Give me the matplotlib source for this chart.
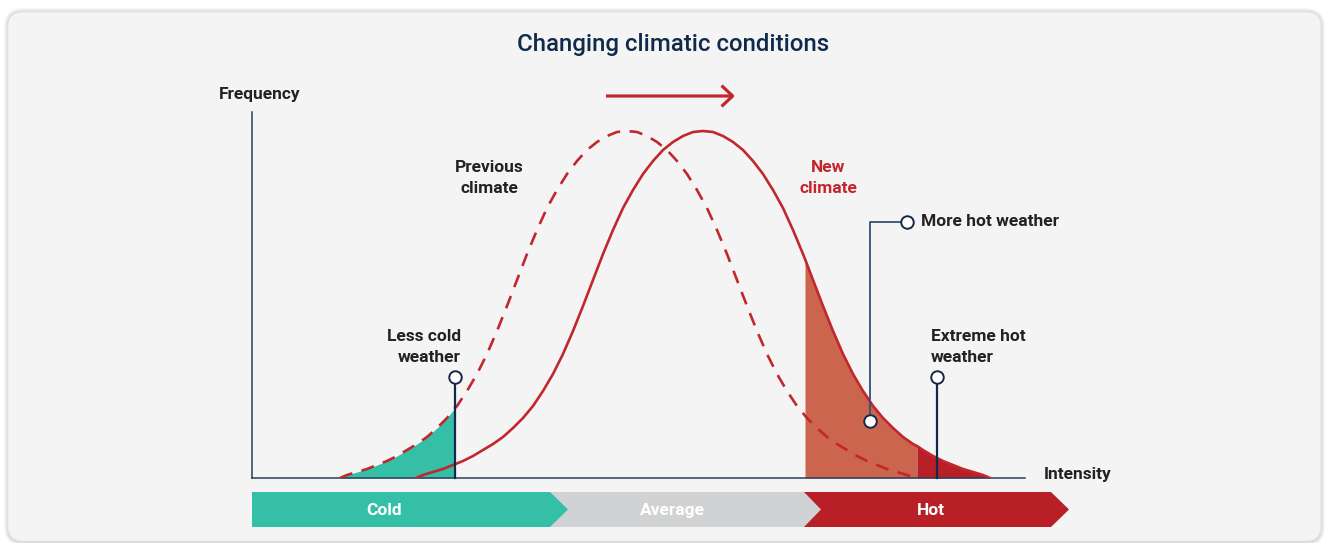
import matplotlib
matplotlib.use("Agg")
import matplotlib.pyplot as plt
from matplotlib.patches import FancyBboxPatch, Polygon, FancyArrowPatch
import numpy as np

plt.rcParams['font.family'] = ['Roboto', 'DejaVu Sans']

# ---------------- data (intensity / frequency, arbitrary units) ----------------
previous_x = [88, 95, 105, 115, 125, 135, 145, 155, 165, 175, 185, 195, 203, 205, 215, 225, 235,
              245, 255, 265, 275, 285, 295, 305, 315, 325, 335, 345, 355, 365, 375,
              385, 395, 405, 415, 425, 435, 445, 455, 465, 475, 485, 495, 505, 515,
              525, 535, 545, 555, 565, 575, 585, 595, 605, 615, 625, 635, 645, 655, 662]
previous_y = [0, 3, 6, 9, 13, 17, 22, 28, 34, 41, 50, 60, 70, 72, 87, 104, 124,
              147, 172, 198, 224, 248, 270, 288, 304, 317, 328, 336, 342, 346, 347,
              346, 342, 336, 328, 317, 304, 288, 270, 248, 224, 198, 172, 147, 124,
              104, 87, 72, 60, 50, 41, 34, 28, 22, 17, 13, 9, 6, 3, 0]

new_x = [164, 171, 181, 191, 201, 211, 221, 231, 241, 251, 261, 271, 281, 291, 301, 311,
         321, 331, 341, 351, 361, 371, 381, 391, 401, 411, 421, 431, 441, 451,
         461, 471, 481, 491, 501, 511, 521, 531, 541, 551, 553, 561, 571, 581, 591,
         601, 611, 621, 631, 641, 651, 661, 665, 671, 681, 691, 701, 711, 721, 731, 738]
new_y = [0, 3, 6, 9, 13, 17, 22, 28, 34, 41, 50, 60, 72, 87, 104, 124,
         147, 172, 198, 224, 248, 270, 288, 304, 317, 328, 336, 342, 346, 347,
         346, 342, 336, 328, 317, 304, 288, 270, 248, 224, 219, 198, 172, 147, 124,
         104, 87, 72, 60, 50, 41, 34, 32, 28, 22, 17, 13, 9, 6, 3, 0]

cold_threshold = 203
hot_threshold = 553
extreme_threshold = 665
extreme_marker = 685
more_hot_marker = (618, 57)

band_labels = ["Cold", "Average", "Hot"]

# ---------------- colours ----------------
RED = "#c1272d"
HOT_FILL = "#cb654e"
DARK_RED = "#b81f27"
TEAL = "#35bfa6"
GREY = "#d1d2d4"
NAVY = "#13294b"
SLATE = "#34506f"
TXT = "#222222"

W, H = 1329, 543
fig = plt.figure(figsize=(W / 100, H / 100), dpi=100)
fig.patch.set_facecolor("white")

# background axes in pixel coordinates
bg = fig.add_axes([0, 0, 1, 1])
bg.set_xlim(0, W)
bg.set_ylim(H, 0)
bg.axis("off")

# shadow + panel
for i, a in enumerate([0.03, 0.03, 0.04, 0.05]):
    g = 4 - i
    bg.add_patch(FancyBboxPatch((8 - g, 12 - g), 1313 + 2 * g, 530 + 2 * g,
                                boxstyle="round,pad=0,rounding_size=%d" % (15 + g),
                                fc="black", ec="none", alpha=a, zorder=0))
bg.add_patch(FancyBboxPatch((8, 12), 1313, 529, boxstyle="round,pad=0,rounding_size=15",
                            fc="#f4f4f4", ec="#e6e6e6", lw=0.8, zorder=1))

# title
bg.text(673, 45, "Changing climatic conditions", ha="center", va="center",
        fontsize=17.3, color="#0f2a4a", fontweight="medium", zorder=5)

# top arrow
bg.add_patch(FancyArrowPatch((606, 96), (735, 96), arrowstyle="->,head_length=8,head_width=7.5",
                             mutation_scale=1, color=RED, lw=2.3, zorder=5,
                             shrinkA=0, shrinkB=0, capstyle="butt"))

# bottom band
yt, yb, ym = 492, 527, 509.5
hot = Polygon([(804, yt), (1051, yt), (1069, ym), (1051, yb), (804, yb)], closed=True,
              fc=DARK_RED, ec="none", zorder=2)
avg = Polygon([(550, yt), (804, yt), (821, ym), (804, yb), (550, yb)], closed=True,
              fc=GREY, ec="none", zorder=3)
cold = Polygon([(252, yt), (550, yt), (568, ym), (550, yb), (252, yb)], closed=True,
               fc=TEAL, ec="none", zorder=4)
for p in (hot, avg, cold):
    bg.add_patch(p)
for lab, xc in zip(band_labels, [384, 672, 931]):
    bg.text(xc, ym + 1, lab, ha="center", va="center", color="white",
            fontsize=12.5, fontweight="bold", zorder=6)

# axis titles and annotations (pixel placement)
FS = 12.5
LS = 1.47
bg.text(260, 94, "Frequency", ha="center", va="center", fontsize=FS, fontweight="bold", color=TXT, zorder=6)
bg.text(1078, 474, "Intensity", ha="center", va="center", fontsize=FS, fontweight="bold", color=TXT, zorder=6)
bg.text(489, 178, "Previous\nclimate", ha="center", va="center", fontsize=FS, fontweight="bold",
        color=TXT, linespacing=LS, zorder=6)
bg.text(828, 178, "New\nclimate", ha="center", va="center", fontsize=FS, fontweight="bold",
        color=RED, linespacing=LS, zorder=6)
bg.text(461, 347, "Less cold\nweather", ha="right", va="center", fontsize=FS, fontweight="bold",
        color=TXT, linespacing=LS, zorder=6)
bg.text(931, 347, "Extreme hot\nweather", ha="left", va="center", fontsize=FS, fontweight="bold",
        color=TXT, linespacing=LS, zorder=6)
bg.text(921, 221, "More hot weather", ha="left", va="center", fontsize=FS, fontweight="bold",
        color=TXT, zorder=6)

# ---------------- main axes ----------------
ax = fig.add_axes([252 / W, (H - 478) / H, 773 / W, 366 / H])
ax.set_xlim(0, 773)
ax.set_ylim(0, 366)
ax.patch.set_alpha(0)
for s in ("top", "right"):
    ax.spines[s].set_visible(False)
for s in ("left", "bottom"):
    ax.spines[s].set_color("#2b3f5c")
    ax.spines[s].set_linewidth(1.1)
ax.set_xticks([])
ax.set_yticks([])

px = np.array(previous_x)
py = np.array(previous_y)
nx = np.array(new_x)
ny = np.array(new_y)

m = px <= cold_threshold
ax.fill_between(px[m], 0, py[m], color=TEAL, lw=0, zorder=2)
m = (nx >= hot_threshold) & (nx <= extreme_threshold)
ax.fill_between(nx[m], 0, ny[m], color=HOT_FILL, lw=0, zorder=2)
m = nx >= extreme_threshold
ax.fill_between(nx[m], 0, ny[m], color=DARK_RED, lw=0, zorder=2)

ax.plot(px, py, color=RED, lw=1.9, dashes=(5, 3.6), zorder=3, solid_capstyle="butt")
ax.plot(nx, ny, color=RED, lw=1.9, zorder=4, solid_joinstyle="round")

# markers
mk = dict(marker="o", ms=9, mfc="white", mew=1.4, clip_on=False, zorder=6)
ax.plot([cold_threshold, cold_threshold], [0, 101], color=NAVY, lw=1.6, zorder=5, clip_on=False)
ax.plot([cold_threshold], [101], mec=NAVY, **mk)
ax.plot([extreme_marker, extreme_marker], [0, 101], color=NAVY, lw=1.6, zorder=5, clip_on=False)
ax.plot([extreme_marker], [101], mec=NAVY, **mk)
mx, my = more_hot_marker
ax.plot([mx, mx, 655], [my, 256, 256], color=SLATE, lw=1.3, zorder=5, clip_on=False)
ax.plot([mx], [my], mec=NAVY, **mk)
ax.plot([655], [256], mec=NAVY, **mk)

fig.savefig("out.png", dpi=100, facecolor="white")
